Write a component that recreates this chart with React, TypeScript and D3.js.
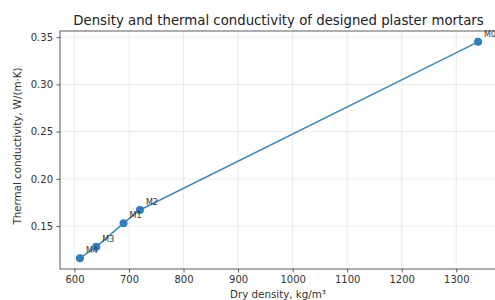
import React, { useEffect, useRef } from "react";
import * as d3 from "d3";

const labels = ["M4", "M3", "M1", "M2", "M0"];
const density = [610, 640, 690, 720, 1340];
const conductivity = [0.116, 0.128, 0.153, 0.167, 0.345];
const xTicks = [600, 700, 800, 900, 1000, 1100, 1200, 1300];
const yTicks = [0.15, 0.2, 0.25, 0.3, 0.35];

const App = () => {
  const svgRef = useRef<SVGSVGElement>(null);

  useEffect(() => {
    const width = 495;
    const height = 300;
    const margin = { top: 31, right: -3, bottom: 31, left: 60 };
    const font = "DejaVu Sans, sans-serif";

    const svg = d3.select(svgRef.current);
    svg.selectAll("*").remove();

    const w = width - margin.left - margin.right;
    const h = height - margin.top - margin.bottom;

    const x = d3.scaleLinear().domain([573.5, 1376.5]).range([0, w]);
    const y = d3.scaleLinear().domain([0.1045, 0.3565]).range([h, 0]);

    const g = svg
      .append("g")
      .attr("transform", `translate(${margin.left},${margin.top})`);

    // grid
    g.append("g")
      .selectAll("line")
      .data(xTicks)
      .join("line")
      .attr("x1", (d) => x(d))
      .attr("x2", (d) => x(d))
      .attr("y1", 0)
      .attr("y2", h)
      .attr("stroke", "#b0b0b0")
      .attr("stroke-opacity", 0.3)
      .attr("stroke-width", 0.8);
    g.append("g")
      .selectAll("line")
      .data(yTicks)
      .join("line")
      .attr("x1", 0)
      .attr("x2", w)
      .attr("y1", (d) => y(d))
      .attr("y2", (d) => y(d))
      .attr("stroke", "#b0b0b0")
      .attr("stroke-opacity", 0.3)
      .attr("stroke-width", 0.8);

    // axes
    const xAxis = g
      .append("g")
      .attr("transform", `translate(0,${h})`)
      .call(
        d3
          .axisBottom(x)
          .tickValues(xTicks)
          .tickFormat(d3.format("d"))
          .tickSize(3.5)
          .tickPadding(3.5)
      );
    const yAxis = g
      .append("g")
      .call(
        d3
          .axisLeft(y)
          .tickValues(yTicks)
          .tickFormat(d3.format(".2f"))
          .tickSize(3.5)
          .tickPadding(3.5)
      );
    [xAxis, yAxis].forEach((a) => {
      a.select(".domain").remove();
      a.selectAll("line").attr("stroke", "#333").attr("stroke-width", 0.8);
      a.selectAll("text")
        .attr("fill", "#333")
        .style("font-family", font)
        .style("font-size", "10px");
    });

    // spines
    g.append("rect")
      .attr("width", w)
      .attr("height", h)
      .attr("fill", "none")
      .attr("stroke", "#333")
      .attr("stroke-width", 0.8);

    const pts = density.map((d, i) => ({
      x: d,
      y: conductivity[i],
      label: labels[i],
    }));

    g.append("path")
      .datum(pts)
      .attr("fill", "none")
      .attr("stroke", "#3a8ac4")
      .attr("stroke-width", 1.5)
      .attr(
        "d",
        d3
          .line<{ x: number; y: number }>()
          .x((d) => x(d.x))
          .y((d) => y(d.y))
      );

    g.selectAll("circle.pt")
      .data(pts)
      .join("circle")
      .attr("class", "pt")
      .attr("cx", (d) => x(d.x))
      .attr("cy", (d) => y(d.y))
      .attr("r", 4)
      .attr("fill", "#2f7fbd");

    g.selectAll("text.lbl")
      .data(pts)
      .join("text")
      .attr("class", "lbl")
      .attr("x", (d) => x(d.x) + 6)
      .attr("y", (d) => y(d.y) - 5)
      .attr("fill", "#333")
      .style("font-family", font)
      .style("font-size", "8px")
      .text((d) => d.label);

    // title & labels
    svg
      .append("text")
      .attr("x", 278.5)
      .attr("y", 25)
      .attr("text-anchor", "middle")
      .attr("fill", "#222")
      .style("font-family", font)
      .style("font-size", "13.3px")
      .text("Density and thermal conductivity of designed plaster mortars");

    svg
      .append("text")
      .attr("x", 278)
      .attr("y", 298)
      .attr("text-anchor", "middle")
      .attr("fill", "#333")
      .style("font-family", font)
      .style("font-size", "10.3px")
      .text("Dry density, kg/m³");

    svg
      .append("text")
      .attr("transform", `translate(21,146) rotate(-90)`)
      .attr("text-anchor", "middle")
      .attr("fill", "#333")
      .style("font-family", font)
      .style("font-size", "10.3px")
      .text("Thermal conductivity, W/(m·K)");
  }, []);

  return (
    <svg
      ref={svgRef}
      width={495}
      height={300}
      style={{ position: "absolute", left: 0, top: 0 }}
    ></svg>
  );
};

export default App;
